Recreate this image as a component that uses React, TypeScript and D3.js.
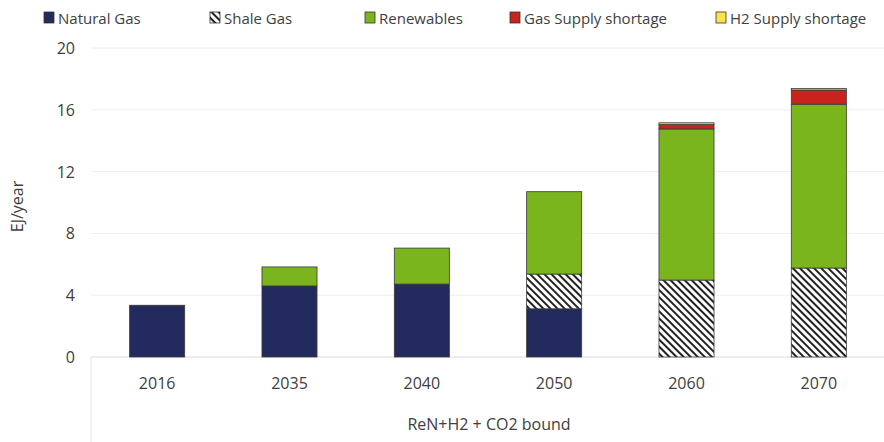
import React from "react";
import * as d3 from "d3";

const years = ["2016", "2035", "2040", "2050", "2060", "2070"];
const naturalGas = [3.35, 4.6, 4.72, 3.12, 0, 0];
const shaleGas = [0, 0, 0, 2.25, 4.98, 5.76];
const renewables = [0, 1.23, 2.33, 5.33, 9.78, 10.6];
const gasShortage = [0, 0, 0, 0, 0.3, 0.92];
const h2Shortage = [0, 0, 0, 0, 0.1, 0.1];
const yTicks = [0, 4, 8, 12, 16, 20];

const seriesNames = ["Natural Gas", "Shale Gas", "Renewables", "Gas Supply shortage", "H2 Supply shortage"];
const seriesFills = ["#232a5e", "url(#shale)", "#7ab51d", "#c8231c", "#ffe34a"];
const legendX = [44, 210, 365, 510, 716];

const font = "Open Sans, Liberation Sans, sans-serif";

export default function App() {
    const width = 884, height = 442;
    const margin = { top: 48, right: 0, bottom: 85, left: 91 };

    const x = d3.scaleBand(years, [margin.left, width - margin.right + 1]).paddingInner(0.584).paddingOuter(0.292);
    const y = d3.scaleLinear([0, 20], [height - margin.bottom, margin.top]);

    const rows = years.map((yr, i) => ({
        year: yr, ng: naturalGas[i], sg: shaleGas[i], re: renewables[i], gs: gasShortage[i], h2: h2Shortage[i]
    }));
    const keys = ["ng", "sg", "re", "gs", "h2"];
    const stacked = d3.stack<any>().keys(keys)(rows);

    return <svg width={width} height={height} style={{ position: "absolute", left: 0, top: 0, background: "#fff" }} fontFamily={font}>
        <defs>
            <pattern id="shale" patternUnits="userSpaceOnUse" width={5} height={5} patternTransform="rotate(-45)">
                <rect width={5} height={5} fill="#fff" />
                <rect x={0} y={0} width={2} height={5} fill="#222" />
            </pattern>
        </defs>
        {/* grid */}
        {yTicks.map(t => (
            <g key={t}>
                {t > 0 && <line x1={margin.left} x2={width - margin.right} y1={y(t)} y2={y(t)} stroke="#eeeeee" strokeWidth={1} />}
                <text x={margin.left - 16} y={y(t)} textAnchor="end" dominantBaseline="central" fontSize={16} fill="#404040">{t}</text>
            </g>
        ))}
        <line x1={margin.left} x2={width - margin.right} y1={y(0)} y2={y(0)} stroke="#d9d9d9" />
        <line x1={margin.left} x2={margin.left} y1={y(0)} y2={height} stroke="#e6e6e6" />

        {stacked.map((s, si) => (
            <g key={s.key}>
                {s.map((d, i) => d[1] - d[0] > 0 && (
                    <rect key={i} x={x(years[i])!} width={x.bandwidth()} y={y(d[1])} height={y(d[0]) - y(d[1])}
                        fill={seriesFills[si]} stroke="#3a3a3a" strokeWidth={0.8} />
                ))}
            </g>
        ))}

        {years.map(yr => (
            <text key={yr} x={x(yr)! + x.bandwidth() / 2} y={389} textAnchor="middle" fontSize={16} fill="#404040">{yr}</text>
        ))}
        <text x={489} y={430} textAnchor="middle" fontSize={16} fill="#404040">ReN+H2 + CO2 bound</text>
        <text transform={`translate(23,${(margin.top + height - margin.bottom) / 2 + 4}) rotate(-90)`} textAnchor="middle" fontSize={16} fill="#404040">EJ/year</text>

        {seriesNames.map((n, i) => (
            <g key={n} transform={`translate(${legendX[i]},12)`}>
                <rect x={0} y={0} width={10} height={11} fill={seriesFills[i]} stroke="#333" strokeWidth={0.8} />
                <text x={14} y={6} dominantBaseline="central" fontSize={15} fill="#404040">{n}</text>
            </g>
        ))}
    </svg>;
}
